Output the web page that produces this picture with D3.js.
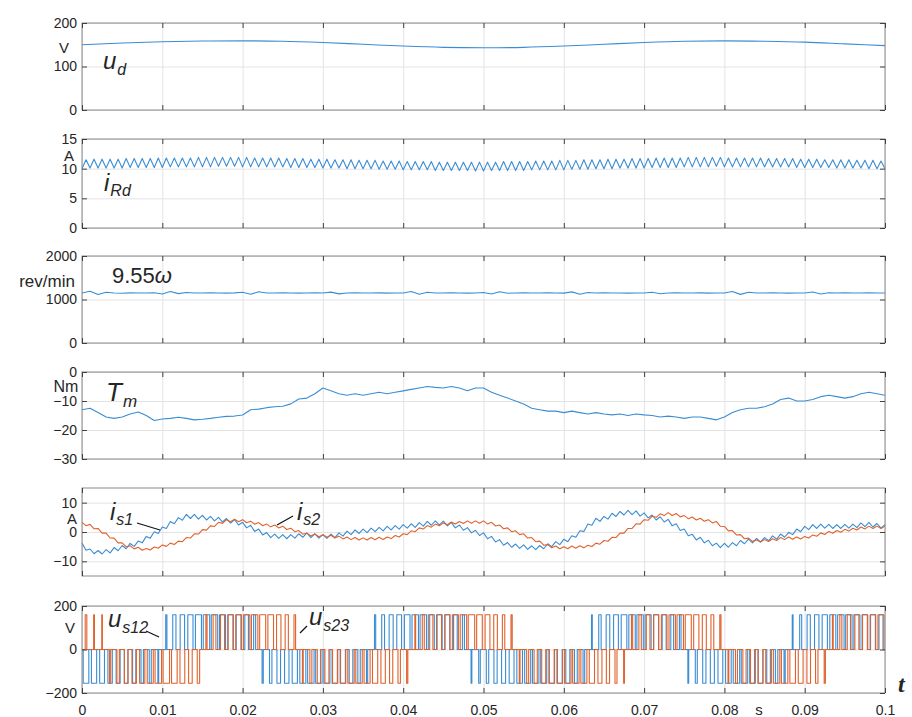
<!DOCTYPE html>
<html>
<head>
<meta charset="utf-8">
<script src="https://cdn.jsdelivr.net/npm/d3@7"></script>
<style>
  body { margin: 0; background: #fff; }
  svg text { font-family: Arial, "Liberation Sans", Helvetica, sans-serif; fill: #262626; }
  .axis .tick text { font-size: 14px; }
  .axis path, .axis line { stroke: #404040; }
  .grid line { stroke: #e3e3e3; }
  .grid path { display: none; }
</style>
</head>
<body>
<div id="chart"></div>
<script>
// time axis
const xTicks = [0, 0.01, 0.02, 0.03, 0.04, 0.05, 0.06, 0.07, 0.08, 0.09, 0.1];
const xTickLabels = ['0', '0.01', '0.02', '0.03', '0.04', '0.05', '0.06', '0.07', '0.08', '0.09', '0.1'];

// u_d, V, every 5 ms
const udStep = 0.005;
const ud = [150, 154, 157, 158.5, 159, 158, 155, 151, 147, 144, 143, 144, 147, 151, 155, 158, 159, 158, 156, 152, 148];

// i_Rd ripple, A : troughs at every ms, peaks half a ms later
const iRdTrough = [10.0,10.1,10.1,10.1,10.1,10.1,10.2,10.2,10.2,10.2,
  10.2,10.3,10.3,10.3,10.3,10.3,10.3,10.4,10.4,10.4,
  10.3,10.3,10.3,10.3,10.3,10.3,10.2,10.2,10.2,10.2,
  10.1,10.1,10.1,10.0,10.0,10.0,10.0,9.9,9.9,9.9,
  9.8,9.8,9.8,9.8,9.7,9.7,9.7,9.7,9.7,9.6,
  9.6,9.7,9.7,9.7,9.7,9.7,9.8,9.8,9.8,9.8,
  9.8,9.9,9.9,9.9,10.0,10.0,10.0,10.1,10.1,10.1,
  10.1,10.2,10.2,10.2,10.2,10.3,10.3,10.3,10.3,10.4,
  10.3,10.3,10.3,10.3,10.3,10.3,10.3,10.3,10.3,10.2,
  10.2,10.2,10.2,10.2,10.1,10.1,10.1,10.1,10.0,10.0,
  10.0];
const iRdPeak = [11.5,11.6,11.6,11.6,11.6,11.7,11.7,11.7,11.7,11.8,
  11.8,11.8,11.8,11.8,11.9,11.9,11.9,11.9,11.9,11.9,
  11.9,11.8,11.8,11.8,11.8,11.7,11.7,11.7,11.6,11.6,
  11.6,11.5,11.5,11.5,11.4,11.4,11.4,11.3,11.3,11.3,
  11.2,11.2,11.2,11.2,11.1,11.1,11.1,11.1,11.1,11.1,
  11.1,11.1,11.2,11.2,11.2,11.2,11.3,11.3,11.3,11.4,
  11.4,11.4,11.5,11.5,11.5,11.6,11.6,11.6,11.7,11.7,
  11.7,11.8,11.8,11.8,11.8,11.9,11.9,11.9,11.9,11.9,
  11.8,11.8,11.8,11.8,11.8,11.7,11.7,11.7,11.7,11.6,
  11.6,11.6,11.5,11.5,11.5,11.5,11.4,11.4,11.4,11.3];

// 9.55 omega, rev/min, every ms
const speed = [1150,1190,1115,1165,1150,1145,1152,1148,1150,1155,
  1125,1185,1135,1160,1150,1148,1152,1150,1147,1153,
  1165,1120,1178,1150,1148,1152,1150,1146,1150,1154,
  1150,1170,1130,1150,1152,1148,1150,1153,1147,1150,
  1150,1185,1120,1165,1150,1148,1152,1150,1146,1150,
  1162,1125,1180,1145,1150,1152,1148,1150,1153,1150,
  1147,1175,1122,1160,1150,1152,1148,1150,1146,1150,
  1150,1168,1132,1150,1152,1148,1150,1153,1147,1150,
  1150,1182,1118,1165,1150,1148,1152,1150,1146,1150,
  1150,1172,1128,1155,1150,1152,1148,1150,1153,1150,
  1150];

// T_m, Nm, every ms
const tm = [-13,-12.5,-14,-15.5,-16,-15.5,-14.5,-13.8,-15,-16.7,
  -16.2,-16,-15.6,-16,-16.5,-16.3,-16,-15.6,-15.3,-15.2,
  -14.8,-13,-12.8,-12.3,-12,-11.8,-11,-9.3,-9,-7.5,
  -5.5,-6.5,-7.5,-8,-7.5,-8,-7.5,-7,-7.5,-7,
  -6.5,-6,-5.5,-5,-5.3,-5.5,-5,-5.5,-6.5,-5.5,
  -5.5,-7,-8,-9,-10,-11,-12.5,-13,-13.5,-13.5,
  -14,-13.5,-14,-14.5,-14,-14.5,-14.8,-14.5,-15,-14.5,
  -14.8,-15,-15.5,-15.2,-15.5,-16,-15.5,-15.5,-16,-16.5,
  -15.5,-14,-13,-12.5,-12.5,-12,-11,-9.5,-9,-10,
  -10,-9.5,-8.5,-8,-8.5,-9,-8.5,-7.5,-7,-7.5,
  -8];

// stator currents, A, every 0.5 ms
const isStep = 0.0005;
const is1 = [-3.8,-6.2,-5.8,-7.4,-6.3,-7.5,-6.0,-7.1,-5.3,-6.4,
  -4.6,-5.7,-3.9,-4.9,-3.1,-3.7,-1.5,-2.1,0.1,-0.5,
  1.7,1.2,3.6,2.8,4.9,4.0,6.0,4.6,6.0,4.4,
  5.7,4.1,5.3,3.8,5.0,3.4,4.6,3.0,4.2,2.4,
  3.3,1.4,2.3,0.2,1.0,-1.0,-0.2,-1.9,-0.7,-2.2,
  -0.9,-2.3,-0.9,-2.1,-0.6,-1.8,-0.3,-1.9,-0.6,-2.1,
  -0.9,-2.2,-0.7,-1.9,-0.3,-1.4,0.3,-0.9,0.7,-0.5,
  1.0,-0.2,1.3,0.1,1.6,0.4,1.9,0.7,2.2,1.0,
  2.5,1.3,2.8,1.6,3.2,2.0,3.6,2.3,3.8,2.4,
  3.7,2.1,3.2,1.4,2.4,0.6,1.5,-0.3,0.6,-1.2,
  -0.3,-2.3,-1.5,-3.4,-2.6,-4.5,-3.6,-5.2,-4.1,-5.6,
  -4.4,-5.9,-4.7,-6.0,-4.6,-5.7,-4.0,-5.0,-3.3,-4.3,
  -2.5,-3.3,-1.3,-1.8,0.4,0.2,2.7,2.3,4.7,3.6,
  5.3,4.4,6.4,5.3,7.0,5.8,7.4,5.9,7.2,5.4,
  6.5,4.8,5.8,4.1,5.2,3.4,4.3,2.1,2.8,0.5,
  1.0,-1.3,-0.8,-2.7,-1.8,-3.7,-2.8,-4.7,-3.8,-5.3,
  -3.9,-5.2,-3.6,-4.7,-2.9,-4.0,-2.4,-3.7,-2.2,-3.4,
  -1.9,-3.0,-1.3,-2.4,-0.7,-1.8,-0.1,-0.9,1.0,0.1,
  1.9,0.8,2.5,1.2,2.7,1.3,2.6,1.2,2.5,1.2,
  2.6,1.3,2.7,1.5,3.1,1.8,3.3,1.7,2.9,1.3,
  2.5];
const is2 = [3.3,2.15,2.6,1.1,1.2,-0.4,-0.4,-2.05,-2.1,-3.7,
  -3.7,-5.0,-4.7,-5.75,-5.2,-6.2,-5.6,-6.15,-5.1,-5.55,
  -4.4,-4.9,-3.8,-4.25,-3.1,-3.3,-1.9,-2.05,-0.6,-0.7,
  0.8,0.65,2.1,1.9,3.3,2.95,4.2,3.5,4.4,3.5,
  4.2,3.15,3.7,2.65,3.2,2.15,2.7,1.75,2.4,1.4,
  2.0,0.85,1.3,0.1,0.5,-0.75,-0.4,-1.35,-0.7,-1.6,
  -0.9,-1.8,-1.1,-2.05,-1.4,-2.35,-1.7,-2.6,-1.9,-2.75,
  -2.0,-2.75,-1.9,-2.65,-1.8,-2.55,-1.7,-2.25,-1.2,-1.7,
  -0.6,-0.9,0.4,0.1,1.4,1.0,2.2,1.65,2.7,2.1,
  3.1,2.45,3.4,2.7,3.6,2.9,3.8,3.0,3.8,3.0,
  3.8,2.75,3.3,2.05,2.4,1.1,1.4,0.1,0.4,-0.9,
  -0.6,-2.05,-1.9,-3.3,-3.1,-4.5,-4.3,-5.35,-4.8,-5.7,
  -5.0,-5.7,-4.8,-5.55,-4.7,-5.4,-4.5,-4.95,-3.8,-4.15,
  -2.9,-3.15,-1.8,-1.9,-0.4,-0.4,1.2,1.2,2.8,2.7,
  4.2,4.0,5.4,5.0,6.2,5.6,6.6,5.65,6.3,5.15,
  5.6,4.55,5.1,4.1,4.7,3.65,4.2,3.1,3.6,1.95,
  1.9,0.4,0.5,-1.0,-0.9,-2.3,-2.1,-3.2,-2.7,-3.45,
  -2.6,-3.25,-2.3,-2.9,-1.9,-2.6,-1.7,-2.5,-1.7,-2.4,
  -1.5,-2.05,-1.0,-1.45,-0.3,-0.85,0.2,-0.45,0.5,-0.1,
  0.9,0.3,1.3,0.7,1.7,1.05,2.0,1.2,2.0,1.2,
  2.0];

// line voltages: signed pulse width per 1 ms switching slot (+ = positive pulse)
const pwmPeriod = 0.001;
const pwmHigh = 160, pwmLow = -155;
const us12Duty = [-0.7,-0.65,-0.6,-0.55,-0.5,-0.45,-0.4,-0.3,-0.25,-0.1,
  0.15,0.4,0.55,0.65,0.75,0.8,0.8,0.75,0.7,0.6,
  0.45,0.25,-0.15,-0.3,-0.45,-0.55,-0.65,-0.75,-0.8,-0.8,
  -0.75,-0.7,-0.6,-0.45,-0.3,-0.15,0.15,0.35,0.5,0.6,
  0.7,0.8,0.8,0.75,0.7,0.6,0.45,0.25,-0.1,-0.2,
  -0.3,-0.4,-0.5,-0.6,-0.7,-0.75,-0.8,-0.75,-0.7,-0.6,
  -0.5,-0.35,-0.2,0.1,0.3,0.45,0.6,0.7,0.8,0.8,
  0.75,0.65,0.5,0.35,0.2,-0.1,-0.25,-0.4,-0.5,-0.6,
  -0.7,-0.8,-0.8,-0.7,-0.6,-0.45,-0.3,-0.15,0.1,0.25,
  0.4,0.55,0.65,0.75,0.8,0.8,0.75,0.7,0.6,0.5];
const us23Duty = [0.2,0.1,0.08,-0.15,-0.3,-0.45,-0.55,-0.65,-0.75,-0.8,
  -0.8,-0.7,-0.6,-0.45,-0.3,0.15,0.35,0.5,0.6,0.7,
  0.8,0.8,0.75,0.7,0.55,0.4,0.2,-0.1,-0.25,-0.4,
  -0.5,-0.6,-0.7,-0.8,-0.8,-0.75,-0.65,-0.55,-0.4,-0.3,
  -0.15,0.1,0.25,0.4,0.55,0.65,0.75,0.8,0.8,0.7,
  0.6,0.45,0.3,0.15,-0.1,-0.25,-0.4,-0.5,-0.6,-0.7,
  -0.8,-0.8,-0.75,-0.65,-0.5,-0.4,-0.25,-0.1,0.15,0.3,
  0.45,0.6,0.7,0.8,0.8,0.75,0.65,0.5,0.35,0.15,
  -0.1,-0.25,-0.4,-0.5,-0.6,-0.7,-0.8,-0.8,-0.7,-0.6,
  -0.45,-0.3,-0.15,0.1,0.25,0.4,0.5,0.6,0.7,0.75];

const blue = '#3b8dd3';
const orange = '#e0622c';

const width = 912, height = 717;
const margin = {left: 82, right: 27};
const innerWidth = width - margin.left - margin.right;

const xScale = d3.scaleLinear().domain([0, 0.1]).range([0, innerWidth]);

const svg = d3.select('#chart').append('svg')
  .attr('width', width)
  .attr('height', height);

// helpers to turn the arrays into [t, v] pairs
const stepped = (arr, step) => arr.map((v, i) => [i * step, v]);
const ripple = (lo, hi) => {
  const pts = [];
  lo.forEach((v, i) => {
    pts.push([i * 0.001, v]);
    if (i < hi.length) pts.push([(i + 0.5) * 0.001, hi[i]]);
  });
  return pts;
};
const pwm = duty => {
  const pts = [[0, 0]];
  duty.forEach((d, i) => {
    if (!d) return;
    const c = (i + 0.5) * pwmPeriod, half = Math.abs(d) * pwmPeriod / 2;
    const v = d > 0 ? pwmHigh : pwmLow;
    pts.push([c - half, 0], [c - half, v], [c + half, v], [c + half, 0]);
  });
  pts.push([0.1, 0]);
  return pts;
};

const panels = [
  {top: 23, bottom: 110, domain: [0, 200], ticks: [0, 100, 200], unit: 'V', ux: 64, uy: 53, us: 15,
    series: [{pts: stepped(ud, udStep), color: blue, curve: d3.curveMonotoneX}]},
  {top: 139, bottom: 228, domain: [0, 15], ticks: [0, 5, 10, 15], unit: 'A', ux: 69, uy: 161, us: 15,
    series: [{pts: ripple(iRdTrough, iRdPeak), color: blue}]},
  {top: 256, bottom: 343, domain: [0, 2000], ticks: [0, 1000, 2000], unit: 'rev/min', ux: 47, uy: 287, us: 17,
    series: [{pts: stepped(speed, 0.001), color: blue}]},
  {top: 372, bottom: 459, domain: [-30, 0], ticks: [-30, -20, -10, 0], unit: 'Nm', ux: 66, uy: 392, us: 16,
    series: [{pts: stepped(tm, 0.001), color: blue}]},
  {top: 488, bottom: 576, domain: [-15, 15], ticks: [-10, 0, 10], unit: 'A', ux: 72, uy: 524, us: 15,
    series: [{pts: stepped(is1, isStep), color: blue}, {pts: stepped(is2, isStep), color: orange}]},
  {top: 606, bottom: 693, domain: [-200, 200], ticks: [-200, 0, 200], unit: 'V', ux: 70, uy: 633, us: 15,
    series: [{pts: pwm(us12Duty), color: blue}, {pts: pwm(us23Duty), color: orange}]}
];

panels.forEach((p, idx) => {
  const h = p.bottom - p.top;
  const yScale = d3.scaleLinear().domain(p.domain).range([h, 0]);
  const g = svg.append('g').attr('transform', `translate(${margin.left},${p.top})`);

  // grid
  g.append('g').attr('class', 'grid')
    .call(d3.axisLeft(yScale).tickValues(p.ticks).tickSize(-innerWidth).tickFormat(''));
  g.append('g').attr('class', 'grid')
    .attr('transform', `translate(0,${h})`)
    .call(d3.axisBottom(xScale).tickValues(xTicks).tickSize(-h).tickFormat(''));

  // data
  p.series.forEach(s => {
    const line = d3.line()
      .x(d => xScale(d[0]))
      .y(d => yScale(d[1]))
      .curve(s.curve || d3.curveLinear);
    g.append('path')
      .attr('fill', 'none')
      .attr('stroke', s.color)
      .attr('stroke-width', 1.1)
      .attr('stroke-linejoin', 'round')
      .attr('d', line(s.pts));
  });

  // box with inward ticks on all four sides
  g.append('rect')
    .attr('width', innerWidth).attr('height', h)
    .attr('fill', 'none').attr('stroke', '#8a8a8a').attr('stroke-width', 1);

  g.append('g').attr('class', 'axis')
    .call(d3.axisLeft(yScale).tickValues(p.ticks).tickSize(-5).tickSizeOuter(0).tickPadding(5)
      .tickFormat(d3.format('d')))
    .call(a => a.select('.domain').remove());
  g.append('g').attr('class', 'axis')
    .attr('transform', `translate(${innerWidth},0)`)
    .call(d3.axisRight(yScale).tickValues(p.ticks).tickSize(-5).tickSizeOuter(0).tickFormat(''))
    .call(a => a.select('.domain').remove())
    .call(a => a.selectAll('text').remove());
  g.append('g').attr('class', 'axis')
    .call(d3.axisTop(xScale).tickValues(xTicks).tickSize(-5).tickSizeOuter(0).tickFormat(''))
    .call(a => a.select('.domain').remove())
    .call(a => a.selectAll('text').remove());
  const xAxisG = g.append('g').attr('class', 'axis')
    .attr('transform', `translate(0,${h})`)
    .call(d3.axisBottom(xScale).tickValues(xTicks).tickSize(-5).tickSizeOuter(0).tickPadding(12)
      .tickFormat((d, i) => xTickLabels[i]))
    .call(a => a.select('.domain').remove());
  if (idx !== panels.length - 1) xAxisG.selectAll('text').remove();

  // unit label
  svg.append('text')
    .attr('x', p.ux).attr('y', p.uy)
    .attr('text-anchor', 'middle')
    .style('font-size', p.us + 'px')
    .text(p.unit);
});

// signal names
function sigLabel(x, y, main, sub, size, subSize, subDy) {
  const t = svg.append('text').attr('x', x).attr('y', y).style('font-size', size + 'px');
  t.append('tspan').text(main).style('font-style', 'italic');
  if (sub) t.append('tspan').text(sub).attr('dy', subDy).attr('dx', 1)
    .style('font-size', subSize + 'px').style('font-style', 'italic');
}
sigLabel(103, 69, 'u', 'd', 24, 16, 6);
sigLabel(104, 191, 'i', 'Rd', 24, 16, 5);
sigLabel(106, 401, 'T', 'm', 26, 17, 6);
sigLabel(110, 520, 'i', 's1', 24, 16, 5);
sigLabel(297, 520, 'i', 's2', 24, 16, 5);
sigLabel(108, 627, 'u', 's12', 24, 16, 6);
sigLabel(309, 625, 'u', 's23', 24, 16, 6);

const w = svg.append('text').attr('x', 112).attr('y', 283).style('font-size', '22px');
w.append('tspan').text('9.55');
w.append('tspan').text('ω').style('font-style', 'italic');

// leader lines
const leaders = [
  [[137, 523], [160, 530]],
  [[277, 525], [293, 516]],
  [[146, 631], [159, 637]],
  [[300, 633], [307, 626]]
];
svg.selectAll('.leader').data(leaders).join('line')
  .attr('class', 'leader')
  .attr('x1', d => d[0][0]).attr('y1', d => d[0][1])
  .attr('x2', d => d[1][0]).attr('y2', d => d[1][1])
  .attr('stroke', '#111').attr('stroke-width', 1.2);

// time axis unit and name
svg.append('text').attr('x', 759).attr('y', 715).attr('text-anchor', 'middle')
  .style('font-size', '15px').text('s');
svg.append('text').attr('x', 898).attr('y', 692)
  .style('font-size', '24px').style('font-style', 'italic').style('font-weight', 'bold')
  .style('font-family', '"Times New Roman", "Liberation Serif", serif').text('t');
</script>
</body>
</html>
